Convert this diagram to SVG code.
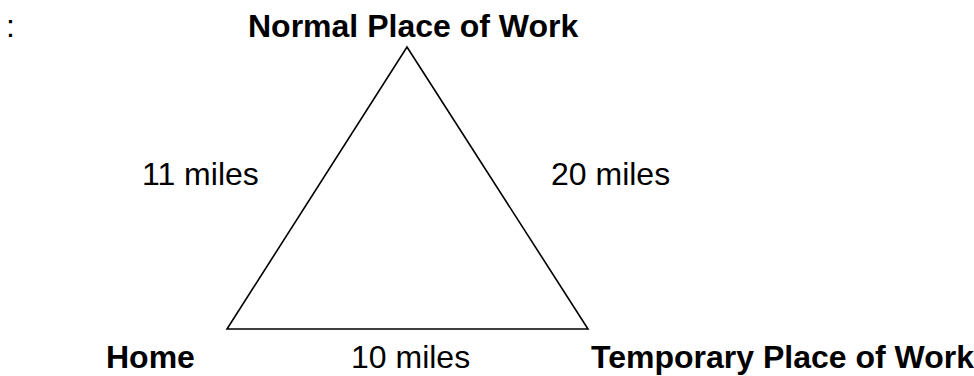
<svg xmlns="http://www.w3.org/2000/svg" width="974" height="376" viewBox="0 0 974 376">
<style>
text{font-family:"Liberation Sans",Arial,sans-serif;font-size:32px;fill:#000}
.b{font-weight:bold}
.edge{fill:none;stroke:#000;stroke-width:1.6;stroke-linejoin:miter}
</style>
<rect width="974" height="376" fill="#fff"/>
<text x="6" y="37">:</text>
<g id="connectors">
<polygon class="edge" points="407,47 588,329 227,329"/>
</g>
<g id="normal"><text class="b" x="248" y="37">Normal Place of Work</text></g>
<g id="home"><text class="b" x="106" y="368">Home</text></g>
<g id="temporary"><text class="b" x="591" y="368">Temporary Place of Work</text></g>
<g id="labels">
<text x="142" y="185">11 miles</text>
<text x="551" y="185">20 miles</text>
<text x="351" y="368">10 miles</text>
</g>
</svg>
